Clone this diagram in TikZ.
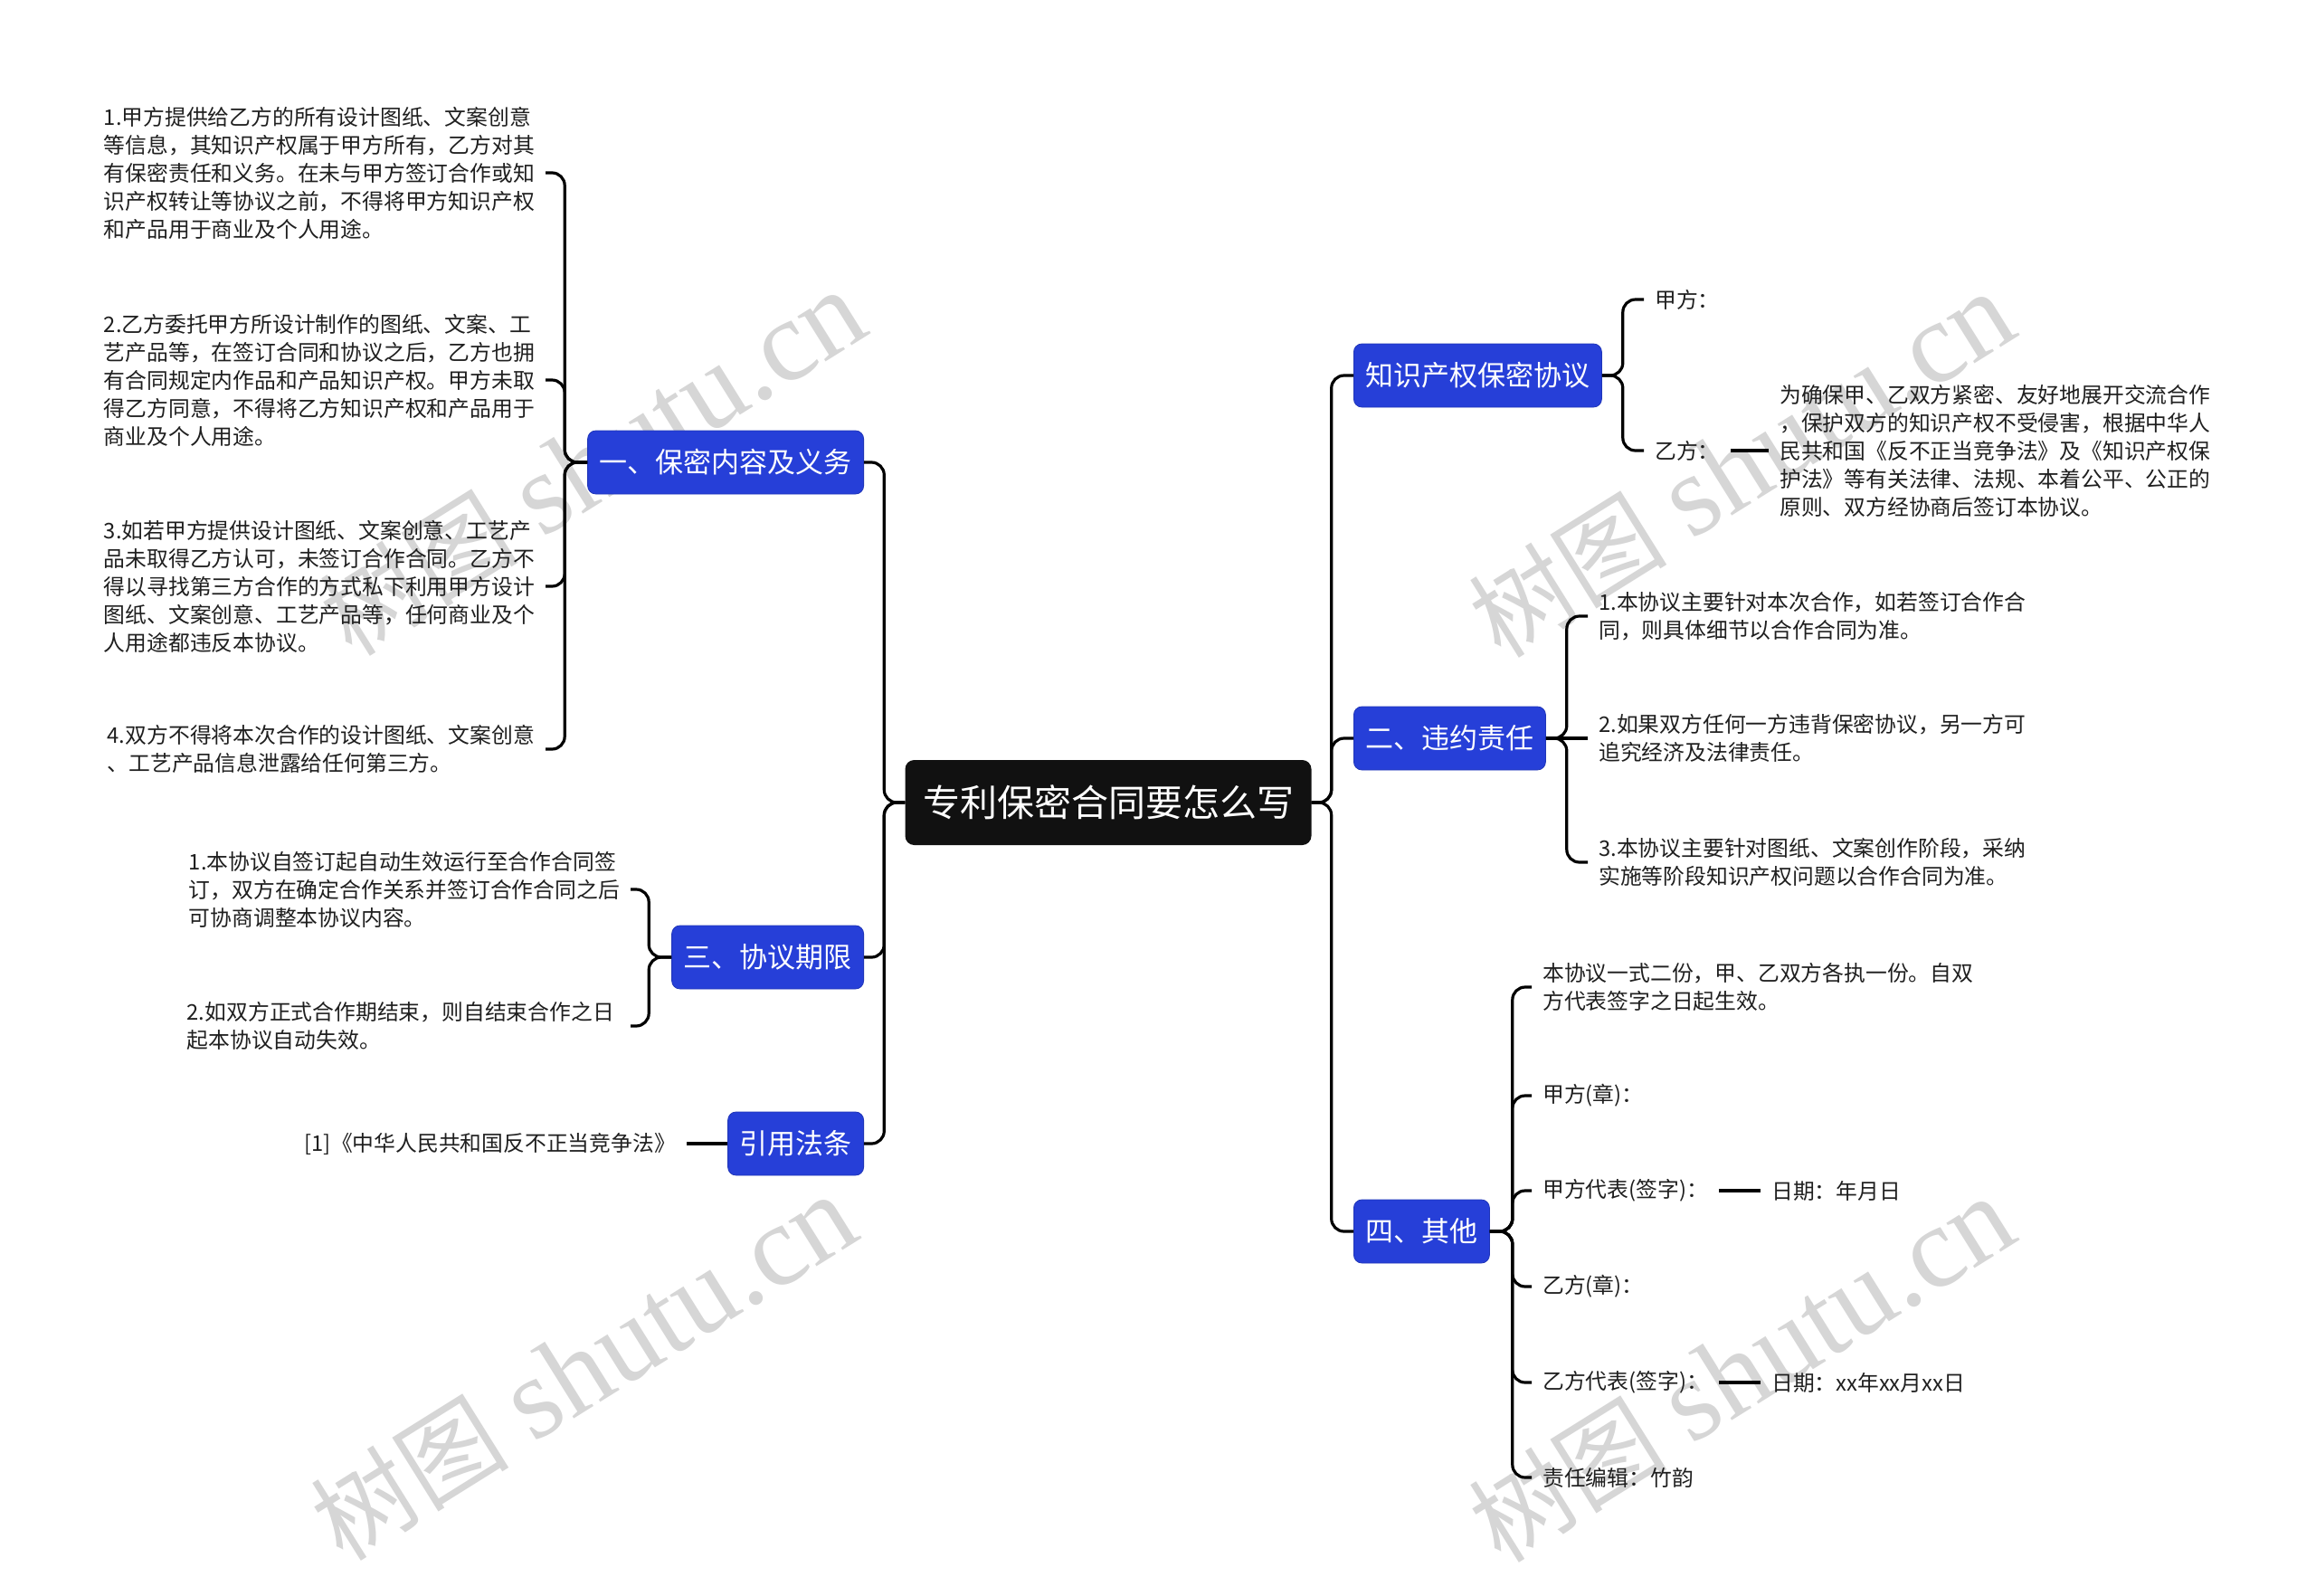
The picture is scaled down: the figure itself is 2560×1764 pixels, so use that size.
\documentclass[tikz,border=0pt]{standalone}
\usepackage{fontspec}
\setmainfont{Noto Sans CJK SC}
\newfontfamily\wmserif{Liberation Serif}
\newfontfamily\wmcjk{Noto Sans CJK SC}
\definecolor{nodeblue}{RGB}{38,63,216}
\definecolor{rootblack}{RGB}{17,17,17}
\definecolor{wmgray}{RGB}{214,214,214}
\newcommand{\wmtext}{{\wmcjk\fontsize{110}{110}\selectfont 树图}\hspace{28pt}{\wmserif\fontsize{128}{128}\selectfont shutu.cn}}
\begin{document}
\begin{tikzpicture}[x=1pt,y=-1pt,
  conn/.style={line width=3.2pt, rounded corners=14pt, draw=black},
  lone/.style={fill=nodeblue, draw=nodeblue!85!black, line width=0.8pt, rounded corners=9pt, text=white,
    font=\fontsize{31}{37}\selectfont, inner xsep=13pt, inner ysep=0pt, minimum height=70pt},
  rootbox/.style={fill=rootblack, rounded corners=10pt, text=white,
    font=\fontsize{41}{50}\selectfont, inner xsep=0pt, inner ysep=0pt, minimum width=449pt, minimum height=94pt},
  leaf/.style={font=\fontsize{23.8}{31}\selectfont, align=left, inner xsep=12pt, inner ysep=2pt, text=black!88},
  wm/.style={rotate=32, text=wmgray, inner sep=0pt}
]
\path[use as bounding box, fill=white] (0,0) rectangle (2560,1764);

% watermarks
\node[wm] (w1) at (655,512) {\wmtext};
\node[wm] (w2) at (645,1512) {\wmtext};
\node[wm] (w3) at (1925,514) {\wmtext};
\node[wm] (w4) at (1925,1514) {\wmtext};

% root
\node[rootbox] (root) at (1225,887) {专利保密合同要怎么写};

% level 1 left
\node[lone, anchor=east] (A) at (955,511) {一、保密内容及义务};
\node[lone, anchor=east] (C) at (955,1058) {三、协议期限};
\node[lone, anchor=east] (D) at (955,1264) {引用法条};
% level 1 right
\node[lone, anchor=west] (B1) at (1496,415) {知识产权保密协议};
\node[lone, anchor=west] (B2) at (1496,816) {二、违约责任};
\node[lone, anchor=west] (B4) at (1496,1361) {四、其他};

% leaves of A
\node[leaf, anchor=east] (a1) at (603,191) {1.甲方提供给乙方的所有设计图纸、文案创意\\等信息，其知识产权属于甲方所有，乙方对其\\有保密责任和义务。在未与甲方签订合作或知\\识产权转让等协议之前，不得将甲方知识产权\\和产品用于商业及个人用途。};
\node[leaf, anchor=east] (a2) at (603,420) {2.乙方委托甲方所设计制作的图纸、文案、工\\艺产品等，在签订合同和协议之后，乙方也拥\\有合同规定内作品和产品知识产权。甲方未取\\得乙方同意，不得将乙方知识产权和产品用于\\商业及个人用途。};
\node[leaf, anchor=east] (a3) at (603,648) {3.如若甲方提供设计图纸、文案创意、工艺产\\品未取得乙方认可，未签订合作合同。乙方不\\得以寻找第三方合作的方式私下利用甲方设计\\图纸、文案创意、工艺产品等，任何商业及个\\人用途都违反本协议。};
\node[leaf, anchor=east] (a4) at (603,828) {4.双方不得将本次合作的设计图纸、文案创意\\、工艺产品信息泄露给任何第三方。};

% leaves of C
\node[leaf, anchor=east] (c1) at (697,983) {1.本协议自签订起自动生效运行至合作合同签\\订，双方在确定合作关系并签订合作合同之后\\可协商调整本协议内容。};
\node[leaf, anchor=east, inner xsep=18pt] (c2) at (697,1134) {2.如双方正式合作期结束，则自结束合作之日\\起本协议自动失效。};

% leaf of D
\node[leaf, anchor=east, inner xsep=12pt] (cite) at (759,1264) {[1]《中华人民共和国反不正当竞争法》};

% leaves of B1
\node[leaf, anchor=west] (b11) at (1817,331) {甲方：};
\node[leaf, anchor=west] (b12) at (1817,498) {乙方：};
\node[leaf, anchor=west] (b12t) at (1955,498) {为确保甲、乙双方紧密、友好地展开交流合作\\，保护双方的知识产权不受侵害，根据中华人\\民共和国《反不正当竞争法》及《知识产权保\\护法》等有关法律、法规、本着公平、公正的\\原则、双方经协商后签订本协议。};

% leaves of B2
\node[leaf, anchor=west] (b21) at (1755,681) {1.本协议主要针对本次合作，如若签订合作合\\同，则具体细节以合作合同为准。};
\node[leaf, anchor=west] (b22) at (1755,816) {2.如果双方任何一方违背保密协议，另一方可\\追究经济及法律责任。};
\node[leaf, anchor=west] (b23) at (1755,953) {3.本协议主要针对图纸、文案创作阶段，采纳\\实施等阶段知识产权问题以合作合同为准。};

% leaves of B4
\node[leaf, anchor=west] (b41) at (1693,1091) {本协议一式二份，甲、乙双方各执一份。自双\\方代表签字之日起生效。};
\node[leaf, anchor=west] (b42) at (1693,1211) {甲方(章)：};
\node[leaf, anchor=west] (b43) at (1693,1316) {甲方代表(签字)：};
\node[leaf, anchor=west] (d1) at (1946,1316) {日期：年月日};
\node[leaf, anchor=west] (b44) at (1693,1422) {乙方(章)：};
\node[leaf, anchor=west] (b45) at (1693,1528) {乙方代表(签字)：};
\node[leaf, anchor=west] (d2) at (1946,1528) {日期：xx年xx月xx日};
\node[leaf, anchor=west] (b46) at (1693,1633) {责任编辑：竹韵};

% connectors: root
\foreach \n in {A,C,D} \draw[conn] (root.west) -- ++(-23,0) |- (\n.east);
\foreach \n in {B1,B2,B4} \draw[conn] (root.east) -- ++(22,0) |- (\n.west);

% A
\foreach \n in {a1,a2,a3,a4} \draw[conn] (A.west) -- ++(-25,0) |- (\n.east);
% C
\foreach \n in {c1,c2} \draw[conn] (C.west) -- ++(-25,0) |- (\n.east);
% D
\draw[conn] (D.west) -- (cite.east);
% B1
\foreach \n in {b11,b12} \draw[conn] (B1.east) -- ++(23,0) |- (\n.west);
\draw[conn] (b12.east) -- (b12t.west);
% B2
\foreach \n in {b21,b23} \draw[conn] (B2.east) -- ++(23,0) |- (\n.west);
\draw[conn] (B2.east) -- (b22.west);
% B4
\foreach \n in {b41,b42,b43,b44,b45,b46} \draw[conn] (B4.east) -- ++(25,0) |- (\n.west);
\draw[conn] (b43.east) -- (d1.west);
\draw[conn] (b45.east) -- (d2.west);
\end{tikzpicture}
\end{document}
